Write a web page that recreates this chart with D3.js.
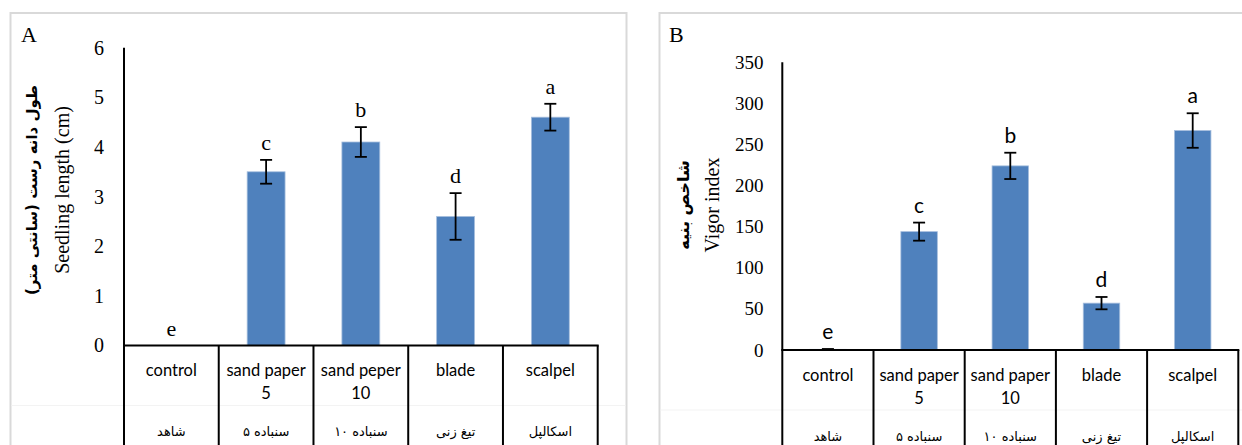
<!DOCTYPE html>
<html>
<head>
<meta charset="utf-8">
<script src="https://cdn.jsdelivr.net/npm/d3@7"></script>
<style>
  html, body { margin: 0; padding: 0; background: #fff; }
  svg { display: block; }
</style>
</head>
<body>
<svg id="chart" width="1242" height="445"></svg>
<script>
// Treatment names (English rows of the category table)
const categoriesA = [["control"], ["sand paper", "5"], ["sand peper", "10"], ["blade"], ["scalpel"]];
const categoriesB = [["control"], ["sand paper", "5"], ["sand paper", "10"], ["blade"], ["scalpel"]];
// Treatment names (Persian row of the category table)
const categoriesFa = ["شاهد", "سنباده ۵", "سنباده ۱۰", "تیغ زنی", "اسکالپل"];

// Seedling length (cm): means and standard errors
const lengthMeans = [0, 3.5, 4.1, 2.6, 4.6];
const lengthErrors = [0, 0.24, 0.3, 0.47, 0.27];
const lengthLetters = ["e", "c", "b", "d", "a"];
const lengthTicks = [0, 1, 2, 3, 4, 5, 6];

// Vigor index: means and standard errors
const vigorMeans = [0.8, 144, 224, 57, 267];
const vigorErrors = [0.4, 11, 16, 7.5, 21];
const vigorLetters = ["e", "c", "b", "d", "a"];
const vigorTicks = [0, 50, 100, 150, 200, 250, 300, 350];

const svg = d3.select("#chart");
const BAR = "#4F81BD";
const SERIF = "'Liberation Serif', 'Times New Roman', serif";
const SANS = "Lato, 'Open Sans', sans-serif";
const FA = "'DejaVu Sans', sans-serif";

function drawPanel(p) {
  const g = svg.append("g");

  // panel frame
  g.append("rect")
    .attr("x", p.frame[0]).attr("y", p.frame[1])
    .attr("width", p.frame[2]).attr("height", p.frame[3])
    .attr("fill", "none").attr("stroke", "#d9d9d9").attr("stroke-width", 2);

  g.append("text")
    .attr("x", p.letterPos[0]).attr("y", p.letterPos[1])
    .attr("font-family", SERIF).attr("font-size", 22).attr("fill", "#000")
    .text(p.panel);

  const x = d3.scaleBand().domain(d3.range(p.means.length)).range(p.xRange).paddingInner(0).paddingOuter(0);
  const y = d3.scaleLinear().domain([0, d3.max(p.ticks)]).range(p.yRange);
  const y0 = y(0);
  const bw = x.bandwidth() * 0.4;

  // faint separator between English and Persian rows
  g.append("line")
    .attr("x1", p.frame[0] + 1).attr("x2", Math.min(p.frame[0] + p.frame[2] - 1, 1242))
    .attr("y1", y0 + 60).attr("y2", y0 + 60)
    .attr("stroke", "#f3f3f3").attr("stroke-width", 1);

  // tick labels (no tick marks)
  const yAxis = d3.axisLeft(y).tickValues(p.ticks).tickFormat(d3.format("d")).tickSize(0).tickPadding(0);
  const ax = g.append("g").attr("transform", `translate(${p.tickRight},0)`).call(yAxis);
  ax.select(".domain").remove();
  ax.selectAll("text")
    .attr("font-family", SERIF).attr("font-size", p.tickSize).attr("fill", "#000");

  // bars
  g.selectAll("rect.bar").data(p.means).join("rect")
    .attr("class", "bar")
    .attr("x", (d, i) => x(i) + (x.bandwidth() - bw) / 2)
    .attr("width", bw)
    .attr("y", d => y(d))
    .attr("height", d => y0 - y(d))
    .attr("fill", BAR)
    .attr("stroke", "#a7bfde").attr("stroke-width", 0.8);

  // error bars
  const eb = g.selectAll("g.err").data(p.means.map((m, i) => ({ m, e: p.errors[i], i })).filter(d => d.e > 0))
    .join("g").attr("class", "err")
    .attr("stroke", "#000").attr("stroke-width", 1.8);
  const cx = d => x(d.i) + x.bandwidth() / 2;
  eb.append("line").attr("x1", cx).attr("x2", cx).attr("y1", d => y(d.m + d.e)).attr("y2", d => y(d.m - d.e));
  eb.append("line").attr("x1", d => cx(d) - 6).attr("x2", d => cx(d) + 6).attr("y1", d => y(d.m + d.e)).attr("y2", d => y(d.m + d.e));
  eb.append("line").attr("x1", d => cx(d) - 6).attr("x2", d => cx(d) + 6).attr("y1", d => y(d.m - d.e)).attr("y2", d => y(d.m - d.e));

  // significance letters
  g.selectAll("text.sig").data(p.letters).join("text")
    .attr("class", "sig")
    .attr("x", (d, i) => x(i) + x.bandwidth() / 2)
    .attr("y", (d, i) => y(p.means[i] + p.errors[i]) - 10)
    .attr("text-anchor", "middle")
    .attr("font-family", p.letterFont).attr("font-size", p.letterSize).attr("fill", "#000")
    .text(d => d);

  // category table lines
  const bounds = d3.range(p.means.length).map(i => x(i)).concat([x.range()[1]]);
  g.selectAll("line.cell").data(bounds).join("line")
    .attr("class", "cell")
    .attr("x1", d => d).attr("x2", d => d)
    .attr("y1", y0).attr("y2", 450)
    .attr("stroke", "#000").attr("stroke-width", 2);
  // value axis line
  g.append("line")
    .attr("x1", p.xRange[0]).attr("x2", p.xRange[0])
    .attr("y1", y(d3.max(p.ticks))).attr("y2", y0)
    .attr("stroke", "#000").attr("stroke-width", 2);
  // baseline
  g.append("line")
    .attr("x1", p.xRange[0] - 1).attr("x2", p.xRange[1] + 1)
    .attr("y1", y0).attr("y2", y0)
    .attr("stroke", "#000").attr("stroke-width", 2);

  // English category names
  p.categories.forEach((lines, i) => {
    lines.forEach((t, k) => {
      g.append("text")
        .attr("x", x(i) + x.bandwidth() / 2)
        .attr("y", y0 + 25 + k * 23)
        .attr("dy", "0.35em")
        .attr("text-anchor", "middle")
        .attr("font-family", SANS).attr("font-size", 16.5).attr("fill", "#000")
        .text(t);
    });
  });
  // Persian category names
  categoriesFa.forEach((t, i) => {
    g.append("text")
      .attr("x", x(i) + x.bandwidth() / 2)
      .attr("y", y0 + 86)
      .attr("dy", "0.35em")
      .attr("text-anchor", "middle")
      .attr("direction", "rtl")
      .attr("font-family", FA).attr("font-size", 13).attr("fill", "#000")
      .text(t);
  });

  // axis titles
  g.append("text")
    .attr("transform", `translate(${p.titleFaX},${p.titleY}) rotate(-90)`)
    .attr("text-anchor", "middle").attr("dy", "0.35em")
    .attr("direction", "rtl")
    .attr("font-family", FA).attr("font-weight", "bold").attr("font-size", p.titleFaSize).attr("fill", "#000")
    .text(p.titleFa);
  g.append("text")
    .attr("transform", `translate(${p.titleEnX},${p.titleY}) rotate(-90)`)
    .attr("text-anchor", "middle").attr("dy", "0.35em")
    .attr("font-family", SERIF).attr("font-size", 20).attr("fill", "#000")
    .text(p.titleEn);
}

drawPanel({
  panel: "A", frame: [10.5, 13, 616, 450], letterPos: [21, 41.5],
  means: lengthMeans, errors: lengthErrors, letters: lengthLetters, ticks: lengthTicks,
  categories: categoriesA,
  xRange: [124, 597.7], yRange: [345.5, 47.7], tickRight: 104, tickSize: 20,
  letterFont: SERIF, letterSize: 22,
  titleFa: "طول دانه رست (سانتی متر)", titleEn: "Seedling length (cm)",
  titleFaX: 32, titleEnX: 62, titleY: 190, titleFaSize: 15
});

drawPanel({
  panel: "B", frame: [659.5, 13, 600, 450], letterPos: [669, 42],
  means: vigorMeans, errors: vigorErrors, letters: vigorLetters, ticks: vigorTicks,
  categories: categoriesB,
  xRange: [782.3, 1238.3], yRange: [350, 62.3], tickRight: 763.5, tickSize: 19,
  letterFont: SANS, letterSize: 21,
  titleFa: "شاخص بنیه", titleEn: "Vigor index",
  titleFaX: 683, titleEnX: 712, titleY: 205, titleFaSize: 16
});
</script>
</body>
</html>
